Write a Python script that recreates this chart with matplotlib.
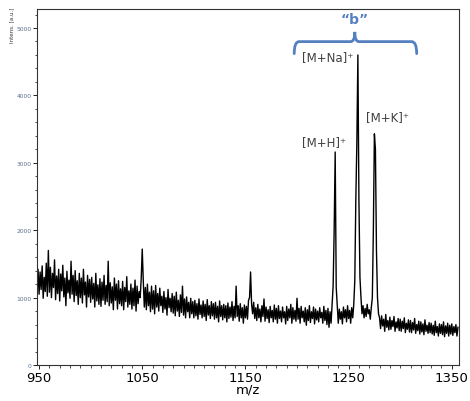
import numpy as np
import matplotlib
matplotlib.use('Agg')
import matplotlib.pyplot as plt
from matplotlib.path import Path
from matplotlib.patches import PathPatch

# spectrum, one value per m/z unit, 948 .. 1356
mz_start = 948
intensity = [
    1180, 1420,
    1050, 1380, 1120, 1470, 990, 1300, 1090, 1510, 1020, 1700,   # 950
    1080, 1450, 1000, 1360, 1150, 1560, 970, 1320, 1060, 1420,   # 960
    950, 1350, 1100, 1480, 1010, 1290, 880, 1390, 1070, 1260,    # 970
    990, 1540, 1050, 1330, 940, 1400, 1030, 1250, 900, 1360,     # 980
    1000, 1290, 920, 1420, 1040, 1230, 860, 1330, 1010, 1270,    # 990
    930, 1300, 980, 1210, 860, 1360, 950, 1190, 900, 1280,       # 1000
    870, 1230, 960, 1330, 900, 1180, 940, 1540, 880, 1220,       # 1010
    920, 1160, 820, 1290, 960, 1200, 830, 1250, 910, 1130,       # 1020
    880, 1240, 820, 1150, 940, 1310, 860, 1100, 900, 1200,       # 1030
    830, 1140, 880, 1260, 800, 1170, 910, 1090, 1000, 1280,      # 1040
    1720, 1250, 860, 1150, 820, 1200, 880, 1080, 790, 1170,      # 1050
    830, 1100, 760, 1180, 860, 1060, 800, 1140, 880, 1020,       # 1060
    780, 1090, 830, 1000, 740, 1120, 850, 990, 790, 1060,        # 1070
    770, 1020, 730, 1080, 800, 960, 720, 1040, 780, 1170,        # 1080
    740, 980, 700, 1010, 790, 930, 700, 990, 760, 940,           # 1090
    700, 960, 730, 910, 680, 980, 750, 890, 700, 950,            # 1100
    720, 900, 660, 970, 740, 880, 690, 940, 730, 910,            # 1110
    680, 930, 700, 870, 640, 950, 720, 880, 670, 900,            # 1120
    700, 880, 640, 920, 690, 860, 710, 940, 660, 870,            # 1130
    700, 1170, 720, 880, 650, 910, 700, 850, 620, 890,           # 1140
    700, 870, 680, 960, 1000, 1380, 900, 760, 930, 690,          # 1150
    850, 660, 900, 700, 830, 640, 880, 720, 980, 650,            # 1160
    860, 690, 820, 630, 870, 700, 810, 640, 890, 680,            # 1170
    840, 620, 880, 690, 800, 640, 860, 700, 790, 610,            # 1180
    870, 660, 830, 700, 900, 620, 850, 680, 810, 650,            # 1190
    990, 680, 840, 620, 870, 700, 800, 640, 850, 590,            # 1200
    820, 660, 880, 630, 790, 690, 860, 610, 830, 670,            # 1210
    800, 640, 850, 700, 780, 620, 870, 660, 810, 600,            # 1220
    840, 560, 790, 620, 900, 1170, 1990, 3160, 1150, 880,        # 1230
    620, 830, 680, 790, 610, 860, 700, 820, 640, 880,            # 1240
    690, 810, 620, 850, 700, 900, 1250, 2450, 3300, 4600,        # 1250
    2450, 1300, 1000, 760, 880, 700, 840, 720, 900, 760,         # 1260
    820, 680, 850, 1000, 2000, 3430, 3200, 1700, 1000, 760,      # 1270
    700, 540, 730, 580, 680, 500, 750, 560, 660, 520,            # 1280
    710, 530, 660, 570, 720, 500, 640, 550, 690, 510,            # 1290
    680, 500, 650, 540, 700, 480, 620, 530, 670, 490,            # 1300
    660, 480, 630, 520, 690, 470, 600, 510, 650, 460,            # 1310
    640, 490, 610, 450, 670, 500, 590, 470, 630, 480,            # 1320
    620, 460, 590, 440, 650, 480, 570, 430, 610, 470,            # 1330
    600, 450, 640, 420, 580, 470, 620, 430, 590, 460,            # 1340
    610, 440, 570, 480, 600, 430, 560,                           # 1350
]
mz = np.arange(mz_start, mz_start + len(intensity))

xticks = [950, 1050, 1150, 1250, 1350]
ion_labels = ['[M+H]\u207a', '[M+Na]\u207a', '[M+K]\u207a']
ion_pos = [(1204.7, 3310), (1204.7, 4570), (1266.7, 3680)]

blue = '#5580c0'

fig = plt.figure(figsize=(4.7, 4.02), dpi=100)
ax = fig.add_axes([37/470, 36/402, 422/470, 356/402])

ax.plot(mz, intensity, color='black', linewidth=1.0)

ax.set_xlim(948, 1357)
ax.set_ylim(0, 5282)

ax.set_xticks(xticks)
ax.set_xticklabels([str(t) for t in xticks], fontsize=9.5)
ax.set_xticks(np.arange(960, 1357, 10), minor=True)
ax.tick_params(axis='x', which='major', length=3, width=0.6, pad=1)
ax.tick_params(axis='x', which='minor', length=2, width=0.5)

ax.set_yticks([0, 1000, 2000, 3000, 4000, 5000])
ax.set_yticks(np.arange(0, 5282, 200), minor=True)
ax.tick_params(axis='y', which='major', length=3, width=0.6, labelsize=4.3,
               labelcolor='#5a6f90', pad=1)
ax.tick_params(axis='y', which='minor', length=1.8, width=0.5)

for s in ax.spines.values():
    s.set_linewidth(0.8)
    s.set_color('#333333')

ax.set_xlabel('m/z', fontsize=9.5, labelpad=-1)
fig.text(12/470, 1 - 25/402, 'Intens. [a.u.]', rotation=90, fontsize=4,
         ha='center', va='center', color='#333333')

for lab, (x, y) in zip(ion_labels, ion_pos):
    ax.text(x, y, lab, fontsize=8.5, color='#404040', ha='left', va='center')

# curly bracket over the three adducts
verts = [(1197.3, 4620), (1197.3, 4798), (1202, 4798),
         (1252, 4798),
         (1256, 4798), (1256, 4942),
         (1256, 4798), (1260, 4798),
         (1311, 4798),
         (1316, 4798), (1316, 4620)]
codes = [Path.MOVETO, Path.CURVE3, Path.CURVE3,
         Path.LINETO,
         Path.CURVE3, Path.CURVE3,
         Path.CURVE3, Path.CURVE3,
         Path.LINETO,
         Path.CURVE3, Path.CURVE3]
ax.add_patch(PathPatch(Path(verts, codes), facecolor='none', edgecolor=blue,
                       linewidth=2.0, capstyle='round'))
ax.text(1256, 5135, '\u201cb\u201d', fontsize=10, fontweight='bold', color=blue,
        ha='center', va='center')

fig.savefig('out.png', dpi=100)
